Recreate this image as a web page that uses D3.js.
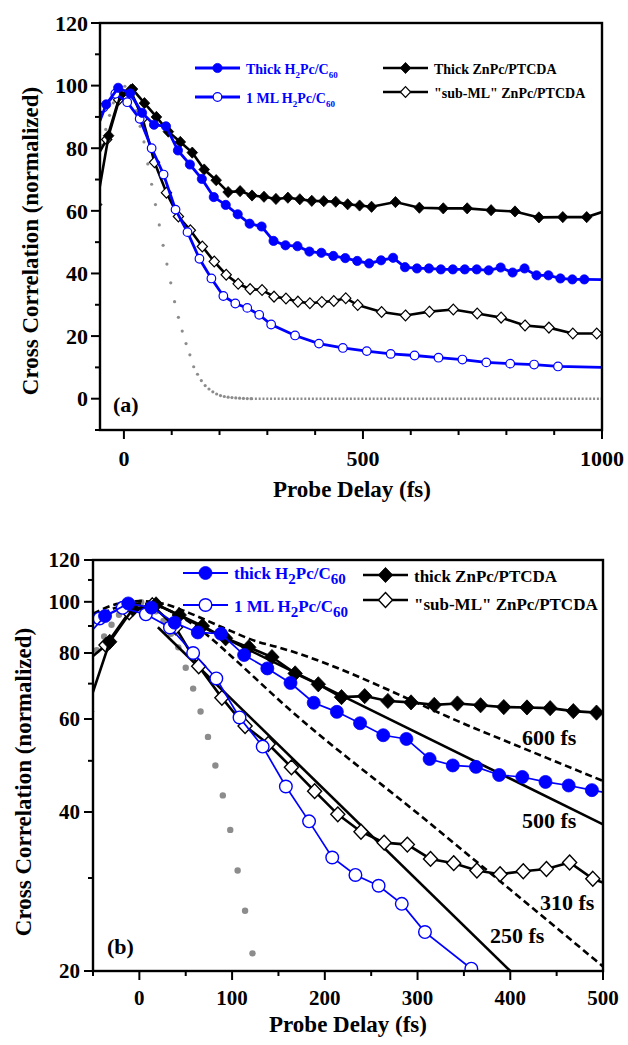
<!DOCTYPE html>
<html><head><meta charset="utf-8">
<script src="https://cdn.jsdelivr.net/npm/d3@7"></script>
<style>
body{margin:0;background:#fff}
text{font-family:"Liberation Serif","Times New Roman",serif;font-weight:bold;fill:#000}
</style>
</head><body>
<svg id="c" width="628" height="1045"></svg>
<script>
// ---------------- data ----------------
// thick ZnPc/PTCDA (filled diamonds)
const thickZnX = [-57,-32,-7,18,43,68,93,118,143,168,193,218,243,268,293,318,343,368,393,418,443,468,493,518,568,618,668,718,768,818,868,918,968,1000];
const thickZnY = [62,84,97,98.9,94.4,90,85.3,82,78.6,73.2,69.8,66,66.3,64.9,64.5,63.8,64.2,63.7,63.2,63.1,62.9,62.1,61.7,61.3,62.8,61,60.8,60.8,60.2,59.8,57.9,58,58,59.6];
// "sub-ML" ZnPc/PTCDA (open diamonds)
const subZnX = [-61,-36,-11,14,39,64,89,114,139,164,189,214,239,264,289,314,339,364,389,414,439,464,489,539,589,639,689,739,789,839,889,939,989,1000];
const subZnY = [76,82.8,95.5,98.5,89.5,75.5,65.8,58.2,53.8,48.6,43.8,39.6,36.7,35.0,34.7,32.6,32,31,30.5,30.9,31.2,32.1,29.9,27.7,26.6,27.8,28.5,27.2,25.9,23.4,22.7,20.8,20.8,21.2];
// thick H2Pc/C60 (filled circles)
const thickH2X = [-62,-37,-12,13,38,63,88,113,138,163,188,213,238,263,288,313,338,363,388,413,438,463,488,513,538,563,588,613,638,663,688,713,738,763,788,813,838,863,888,913,938,963,1000];
const thickH2Y = [84,94,99.3,97.5,91.3,87.5,87,79.3,74.8,70.2,64.4,61.9,58.9,55.9,55,50.4,49,48.7,47,46.6,45.6,44.9,44,43.2,44.2,45,42,41.6,41.6,41.3,41.3,41.3,41.3,41,41.9,40.3,41.6,39.4,39.4,38.4,38.1,38.1,38];
// 1 ML H2Pc/C60 (open circles)
const mlH2X = [-68,-43,-18,7,33,58,83,108,133,158,183,208,233,258,283,308,358,408,458,508,558,608,658,708,758,808,858,908,1000];
const mlH2Y = [86,93,97.4,94.7,89.4,80,71.6,60.4,53.2,44.7,38.4,32.8,30.4,29,26.8,23.7,20.2,17.6,16.2,15.2,14.3,13.8,13.1,12.5,11.6,11.2,10.9,10.3,10.0];
// pump-probe cross correlation (grey dots)
const pumpX = [-62,-54,-46,-38,-30,-22,-14,-6,2,10,18,26,34,42,50,58,66,74,82,90,98,106,114,122,130,138,146,154,162,170,178,186,194,202,210,218,226,234,242,250,258,266,1000];
const pumpY = [69,75,81,86,90.5,94.5,97.5,99.5,99.8,98.8,96,92,87,82,75,68.5,62,55.5,49,43,37,31,26,21.6,17.6,14,10.2,7.8,5.8,4.2,3.1,2.2,1.5,1.0,0.7,0.5,0.35,0.25,0.15,0.1,0.05,0,0];
// exponential fits, panel (b)
const fit600X = [-50,-25,0,25,54,90,126,151,367,500];
const fit600Y = [95,99,100.3,99.3,95.2,89.4,84.2,81.9,57.1,45.8];
const fit500X = [20,500];
const fit500Y = [98.6,37.9];
const fit310X = [-50,-25,0,25,50,75,97,159,306,500];
const fit310Y = [93,97.5,99.3,97.5,92.5,86,79.5,63.2,39,20.4];
const fit250X = [20,400];
const fit250Y = [89.5,20];
const fitLabels = ["600 fs","500 fs","310 fs","250 fs"];
// ticks
const xTicksA = [0,500,1000], xMinorA = [100,200,300,400,600,700,800,900];
const yTicksA = [0,20,40,60,80,100,120], yMinorA = [-10,10,30,50,70,90,110];
const xTicksB = [0,100,200,300,400,500], xMinorB = [-50,50,150,250,350,450];
const yTicksB = [20,40,60,80,100,120], yMinorB = [30,50,70,90,110];

// ---------------- drawing ----------------
const BLUE = "#0000ff", GREY = "#8c8c8c";
const svg = d3.select("#c");
const zip = (xs, ys) => xs.map((x, i) => [x, ys[i]]);

const series = [
  {d: zip(subZnX, subZnY), color: "#000", shape: "diamond", fill: "#fff"},
  {d: zip(thickZnX, thickZnY), color: "#000", shape: "diamond", fill: "#000"},
  {d: zip(mlH2X, mlH2Y), color: BLUE, shape: "circle", fill: "#fff"},
  {d: zip(thickH2X, thickH2Y), color: BLUE, shape: "circle", fill: BLUE}
];

function diamondPath(h) { const w = h * 0.95; return `M0,${-h}L${w},0L0,${h}L${-w},0Z`; }

function drawMarker(g, shape, fill, color, cx, cy, sz) {
  if (shape === "circle") {
    g.append("circle").attr("cx", cx).attr("cy", cy)
      .attr("r", fill === "#fff" ? sz.ro : sz.rf)
      .attr("fill", fill).attr("stroke", color).attr("stroke-width", fill === "#fff" ? sz.sw : 0.8);
  } else {
    g.append("path").attr("d", diamondPath(fill === "#fff" ? sz.dho : sz.dh))
      .attr("transform", `translate(${cx},${cy})`)
      .attr("fill", fill).attr("stroke", color).attr("stroke-width", fill === "#fff" ? sz.sw : 0.8);
  }
}

function panel(o) {
  const x = d3.scaleLinear().domain(o.xd).range([o.L, o.R]);
  const y = (o.log ? d3.scaleLog() : d3.scaleLinear()).domain(o.yd).range([o.B, o.T]);
  const id = "clip" + o.name;
  svg.append("clipPath").attr("id", id).append("rect")
    .attr("x", o.L).attr("y", o.T).attr("width", o.R - o.L).attr("height", o.B - o.T);
  const g = svg.append("g").attr("clip-path", `url(#${id})`);

  // grey cross-correlation dots
  const pts = zip(pumpX, pumpY);
  if (!o.log) {
    g.append("path").attr("d", d3.line().x(d => x(d[0])).y(d => y(d[1]))(pts.slice(-2)))
      .attr("fill", "none").attr("stroke", GREY).attr("stroke-width", o.pumpW).attr("stroke-dasharray", "2,1.8");
  }
  pts.slice(0, -1).forEach(d => {
    if (o.log && d[1] < o.yd[0]) return;
    g.append("circle").attr("cx", x(d[0])).attr("cy", y(d[1])).attr("r", o.pumpR).attr("fill", GREY);
  });

  // fits
  if (o.fits) {
    const fl = d3.line().x(d => x(d[0])).y(d => y(d[1])).curve(d3.curveMonotoneX);
    [[fit600X, fit600Y, true], [fit500X, fit500Y, false], [fit310X, fit310Y, true], [fit250X, fit250Y, false]]
      .forEach(([xs, ys, dashed]) => {
        g.append("path").attr("d", fl(zip(xs, ys))).attr("fill", "none").attr("stroke", "#000")
          .attr("stroke-width", 2.6).attr("stroke-dasharray", dashed ? "7,4" : null);
      });
  }

  // data series
  const line = d3.line().x(d => x(d[0])).y(d => y(d[1]));
  series.forEach(s => {
    g.append("path").attr("d", line(s.d)).attr("fill", "none").attr("stroke", s.color)
      .attr("stroke-width", s.color === BLUE ? o.blueW : o.blackW);
    s.d.forEach(d => { if (d[0] < 995) drawMarker(g, s.shape, s.fill, s.color, x(d[0]), y(d[1]), o.sz); });
  });

  // frame
  svg.append("rect").attr("x", o.L).attr("y", o.T).attr("width", o.R - o.L).attr("height", o.B - o.T)
    .attr("fill", "none").attr("stroke", "#000").attr("stroke-width", 2.4);

  // ticks
  const tk = svg.append("g").attr("stroke", "#000").attr("stroke-width", 2);
  o.xt.forEach(v => tk.append("line").attr("x1", x(v)).attr("x2", x(v)).attr("y1", o.B).attr("y2", o.B + 9));
  o.xm.forEach(v => tk.append("line").attr("x1", x(v)).attr("x2", x(v)).attr("y1", o.B).attr("y2", o.B + 5));
  o.yt.forEach(v => tk.append("line").attr("y1", y(v)).attr("y2", y(v)).attr("x1", o.L).attr("x2", o.L - 9));
  o.ym.forEach(v => tk.append("line").attr("y1", y(v)).attr("y2", y(v)).attr("x1", o.L).attr("x2", o.L - 5));

  o.xt.forEach(v => svg.append("text").attr("x", x(v)).attr("y", o.xLabY).attr("text-anchor", "middle")
    .style("font-size", o.tickFs + "px").text(v));
  o.yt.forEach(v => svg.append("text").attr("x", o.yLabX).attr("y", y(v)).attr("dy", "0.35em")
    .attr("text-anchor", "end").style("font-size", o.tickFs + "px").text(v));

  // titles
  svg.append("text").attr("x", o.xTitle[0]).attr("y", o.xTitle[1]).attr("text-anchor", "middle")
    .style("font-size", "23px").text("Probe Delay (fs)");
  svg.append("text").attr("transform", `translate(${o.yTitle[0]},${o.yTitle[1]}) rotate(-90)`)
    .attr("text-anchor", "middle").style("font-size", "23px").text("Cross Correlation (normalized)");
  svg.append("text").attr("x", o.tag[0]).attr("y", o.tag[1]).style("font-size", "22px").text(o.name === "a" ? "(a)" : "(b)");

  // legend
  const lg = svg.append("g");
  const items = [
    {s: series[3], lx: o.leg.bx, ly: o.leg.by[0], ty: o.leg.bty[0], parts: [[o.name === "a" ? "Thick H" : "thick H", 0], ["2", 1], ["Pc/C", 0], ["60", 1]]},
    {s: series[2], lx: o.leg.bx, ly: o.leg.by[1], ty: o.leg.bty[1], parts: [["1 ML H", 0], ["2", 1], ["Pc/C", 0], ["60", 1]]},
    {s: series[1], lx: o.leg.kx, ly: o.leg.ky[0], ty: o.leg.kty[0], parts: [[o.name === "a" ? "Thick ZnPc/PTCDA" : "thick ZnPc/PTCDA", 0]]},
    {s: series[0], lx: o.leg.kx, ly: o.leg.ky[1], ty: o.leg.kty[1], parts: [["\"sub-ML\" ZnPc/PTCDA", 0]]}
  ];
  items.forEach(it => {
    lg.append("line").attr("x1", it.lx).attr("x2", it.lx + 45).attr("y1", it.ly).attr("y2", it.ly)
      .attr("stroke", it.s.color).attr("stroke-width", it.s.color === BLUE ? o.legBlueW : o.blackW);
    drawMarker(lg, it.s.shape, it.s.fill, it.s.color, it.lx + 22.5, it.ly, o.sz);
    const t = lg.append("text").attr("x", it.lx + 51).attr("y", it.ty).style("font-size", o.legFs + "px")
      .style("fill", it.s.color);
    it.parts.forEach(([str, sub], i) => {
      const ts = t.append("tspan").text(str);
      if (sub) ts.attr("dy", o.subDy).style("font-size", o.subFs + "px");
      else ts.attr("dy", i > 0 ? -o.subDy : 0);
    });
  });

  // fit labels
  if (o.fits) {
    const pos = [[522, 745], [522, 828], [540, 910], [490, 943]];
    fitLabels.forEach((s, i) => svg.append("text").attr("x", pos[i][0]).attr("y", pos[i][1])
      .style("font-size", "22px").text(s));
  }
}

panel({
  name: "a", L: 100, R: 602, T: 23, B: 430, xd: [-50, 1000], yd: [-10, 120], log: false,
  xt: xTicksA, xm: xMinorA, yt: yTicksA, ym: yMinorA, xLabY: 466, yLabX: 88, tickFs: 22,
  xTitle: [352, 497], yTitle: [38, 241], tag: [113, 412],
  pumpR: 1.6, pumpW: 2.6, blueW: 2.8, blackW: 2.6, legBlueW: 2.8,
  sz: {rf: 4.6, ro: 4.3, dh: 5.6, dho: 5.4, sw: 1.2},
  legFs: 14, subFs: 9, subDy: 4,
  leg: {bx: 195, by: [68, 97], bty: [74, 103], kx: 383, ky: [68, 92], kty: [74, 98]},
  fits: false
});

panel({
  name: "b", L: 93, R: 603, T: 560, B: 971, xd: [-50, 500], yd: [20, 120], log: true,
  xt: xTicksB, xm: xMinorB, yt: yTicksB, ym: yMinorB, xLabY: 1005, yLabX: 80, tickFs: 21,
  xTitle: [348, 1032], yTitle: [31, 782], tag: [107, 954],
  pumpR: 3.2, pumpW: 4, blueW: 1.7, blackW: 2.6, legBlueW: 2,
  sz: {rf: 6.5, ro: 6.3, dh: 7.6, dho: 7.4, sw: 1.4},
  legFs: 17, subFs: 15, subDy: 5,
  leg: {bx: 183, by: [573, 605], bty: [579, 612], kx: 363, ky: [575, 600], kty: [582, 610]},
  fits: true
});
</script>
</body></html>
